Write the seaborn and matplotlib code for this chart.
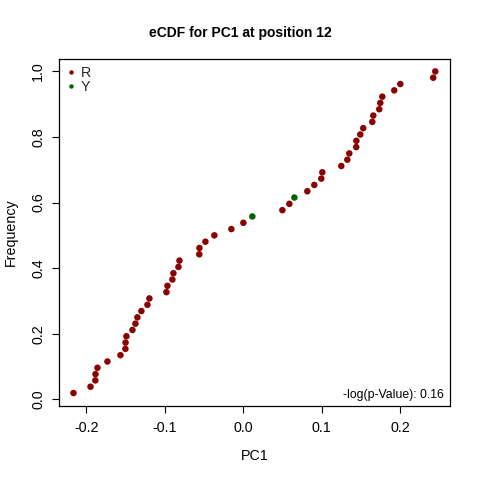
import numpy as np
import pandas as pd
import matplotlib
matplotlib.use("Agg")
import matplotlib.pyplot as plt
from matplotlib.lines import Line2D
import seaborn as sns

title = "eCDF for PC1 at position 12"
x_label = "PC1"
y_label = "Frequency"
groups = ["R", "Y"]
group_colors = ["#8B0000", "#006400"]
annotation = "-log(p-Value): 0.16"
x_ticks = [-0.2, -0.1, 0.0, 0.1, 0.2]
y_ticks = [0.0, 0.2, 0.4, 0.6, 0.8, 1.0]

pc1_R = [-0.2162, -0.1945, -0.1883, -0.1881, -0.1856, -0.1729, -0.1563,
         -0.1500, -0.1498, -0.1487, -0.1410, -0.1372, -0.1347, -0.1296,
         -0.1219, -0.1194, -0.0977, -0.0964, -0.0901, -0.0888, -0.0824,
         -0.0811, -0.0558, -0.0556, -0.0480, -0.0366, -0.0149, 0.0004,
         0.0501, 0.0590, 0.0819, 0.0908, 0.0997, 0.1010, 0.1252, 0.1329,
         0.1354, 0.1442, 0.1444, 0.1494, 0.1532, 0.1647, 0.1660, 0.1736,
         0.1749, 0.1775, 0.1927, 0.2004, 0.2424, 0.2450]
pc1_Y = [0.0118, 0.0654]

sns.set_theme(style="ticks")
plt.rcParams['font.family'] = ['Liberation Sans', 'DejaVu Sans']

df = pd.DataFrame({
    "PC1": pc1_R + pc1_Y,
    "group": ["R"] * len(pc1_R) + ["Y"] * len(pc1_Y),
})
df["Frequency"] = df["PC1"].rank(method="first") / len(df)

fig = plt.figure(figsize=(4.8, 4.8), dpi=100)
ax = fig.add_axes([0.1229, 0.1544, 0.8141, 0.7236])

palette = dict(zip(groups, group_colors))
sns.scatterplot(data=df, x="PC1", y="Frequency", hue="group", palette=palette,
                s=22, linewidth=0, legend=False, ax=ax)

xmin, xmax = df["PC1"].min(), df["PC1"].max()
ymin, ymax = df["Frequency"].min(), df["Frequency"].max()
dx, dy = (xmax - xmin) * 0.04, (ymax - ymin) * 0.04
ax.set_xlim(xmin - dx, xmax + dx)
ax.set_ylim(ymin - dy, ymax + dy)

fs = 10.3
ax.set_xticks(x_ticks)
ax.set_xticklabels([f"{v:.1f}" for v in x_ticks])
ax.set_yticks(y_ticks)
ax.set_yticklabels([f"{v:.1f}" for v in y_ticks])
ax.tick_params(axis="both", direction="out", length=5, width=0.8, labelsize=fs,
               colors="black")
ax.tick_params(axis="x", pad=6)
ax.tick_params(axis="y", pad=5)
for lab in ax.get_yticklabels():
    lab.set_rotation(90)
    lab.set_va("center")

for sp in ax.spines.values():
    sp.set_visible(True)
    sp.set_color("black")
    sp.set_linewidth(0.9)

ax.set_xlabel(x_label, fontsize=fs, color="black")
ax.set_ylabel(y_label, fontsize=fs, color="black")
ax.xaxis.set_label_coords(0.5, -0.125)
ax.yaxis.set_label_coords(-0.105, 0.5)

fig.suptitle(title, fontsize=10, fontweight="bold", y=0.932, va="center",
             color="black")

handles = [Line2D([0], [0], marker="o", linestyle="", color=c, markersize=3.2,
                  markeredgewidth=0) for c in group_colors]
ax.legend(handles, groups, loc="upper left", frameon=False, fontsize=fs,
          handlelength=0.6, handletextpad=0.35, labelspacing=0.0,
          borderaxespad=0.25, borderpad=0.3)

ax.text(0.985, 0.03, annotation, transform=ax.transAxes, ha="right",
        va="center", fontsize=8.8, color="black")

fig.savefig("out.png", dpi=100)
